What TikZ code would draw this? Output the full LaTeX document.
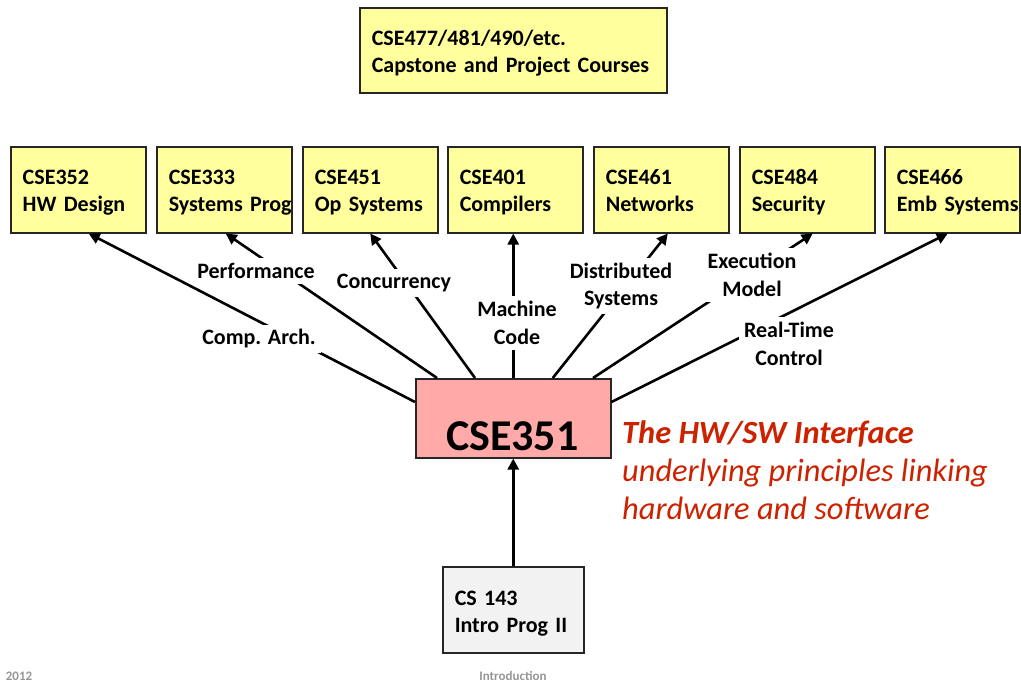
\documentclass[tikz,border=0pt]{standalone}
\usepackage{fontspec}
\setmainfont{Carlito}
\usetikzlibrary{arrows.meta,calc}
\definecolor{boxyellow}{RGB}{255,255,158}
\definecolor{boxpink}{RGB}{255,170,168}
\definecolor{boxgray}{RGB}{242,242,242}
\definecolor{hwred}{RGB}{204,34,0}
\definecolor{footgray}{RGB}{150,150,150}
\newcommand{\myup}{\rule{0pt}{22.5pt}}
\newcommand{\mydown}{\rule[-6pt]{0pt}{6pt}}
\begin{document}
\begin{tikzpicture}[x=1pt,y=-1pt,
  course/.style={draw=black!85, line width=1.5pt, fill=boxyellow, anchor=north west,
    minimum width=135pt, minimum height=86pt, text width=111pt, inner xsep=12pt, inner ysep=0pt,
    align=left, font=\fontsize{22}{27}\selectfont\bfseries},
  link/.style={line width=2.6pt, -{Triangle[length=11pt,width=11pt]}},
  lbl/.style={fill=white, inner sep=5pt, align=center, font=\fontsize{22}{27.5}\selectfont\bfseries},
  foot/.style={text=footgray, font=\fontsize{13}{15}\selectfont\bfseries}]
\useasboundingbox (0,0) rectangle (1021,683);

% boxes
\node[course, minimum width=307pt, minimum height=85pt, text width=283pt] (top) at (359,7)
  {\myup CSE477/481/490/etc.\\Capstone and Project Courses\mydown};
\node[course] (b352) at (10,146) {\myup CSE352\\\mbox{HW Design}\mydown};
\node[course] (b333) at (156,146) {\myup CSE333\\\mbox{Systems Prog}\mydown};
\node[course] (b451) at (302,146) {\myup CSE451\\\mbox{Op Systems}\mydown};
\node[course] (b401) at (447,146) {\myup CSE401\\Compilers\mydown};
\node[course] (b461) at (593,146) {\myup CSE461\\Networks\mydown};
\node[course] (b484) at (739,146) {\myup CSE484\\Security\mydown};
\node[course] (b466) at (884,146) {\myup CSE466\\\mbox{Emb Systems}\mydown};

\node[course, fill=boxpink, minimum width=195pt, minimum height=79pt, text width=171pt] (c351) at (415,378) {};
\node[font=\fontsize{44}{48}\selectfont\bfseries] (c351t) at ($(c351.center)+(-1,18)$) {CSE351};

\node[course, fill=boxgray, minimum width=141pt, minimum height=86pt, text width=117pt] (cs143) at (442,566)
  {\rule{0pt}{25pt}CS 143\\Intro Prog II\mydown};

% connectors
\draw[link] ($(c351.north west)+(0,24)$) -- ($(b352.south)+(10.5,0)$);
\draw[link] ($(c351.north west)+(22,0)$) -- ($(b333.south)+(1.5,0)$);
\draw[link] ($(c351.north west)+(60,0)$) -- (b451.south);
\draw[link] (c351.north) -- (c351.north |- b401.south);
\draw[link] ($(c351.north)+(39.5,0)$) -- ($(b461.south)+(6.5,0)$);
\draw[link] ($(c351.north west)+(178,0)$) -- ($(b484.south)+(5.5,0)$);
\draw[link] ($(c351.north east)+(0,24)$) -- ($(b466.south)+(-4.5,0)$);
\draw[link] (cs143.north) -- (c351.south);

% connector labels
\node[lbl] (lca) at (259,339) {Comp. Arch.};
\node[lbl] (lpf) at (256,271) {Performance};
\node[lbl] (lcc) at (394,283) {Concurrency};
\node[lbl] (lmc) at (517,323) {Machine\\Code};
\node[lbl] (lds) at (621,286) {Distributed\\Systems};
\node[lbl] (lem) at (752,275) {Execution\\Model};
\node[lbl] (lrt) at (789,344) {Real-Time\\Control};

% side text
\node[anchor=west, inner sep=0pt, align=left, text=hwred, font=\fontsize{32.4}{38}\selectfont\itshape] (hw) at (622,470)
  {\textbf{The HW/SW Interface}\\underlying principles linking\\hardware and software};

% footer
\node[foot] (yr) at (19,676) {2012};
\node[foot] (intro) at (513,676) {Introduction};
\end{tikzpicture}
\end{document}
